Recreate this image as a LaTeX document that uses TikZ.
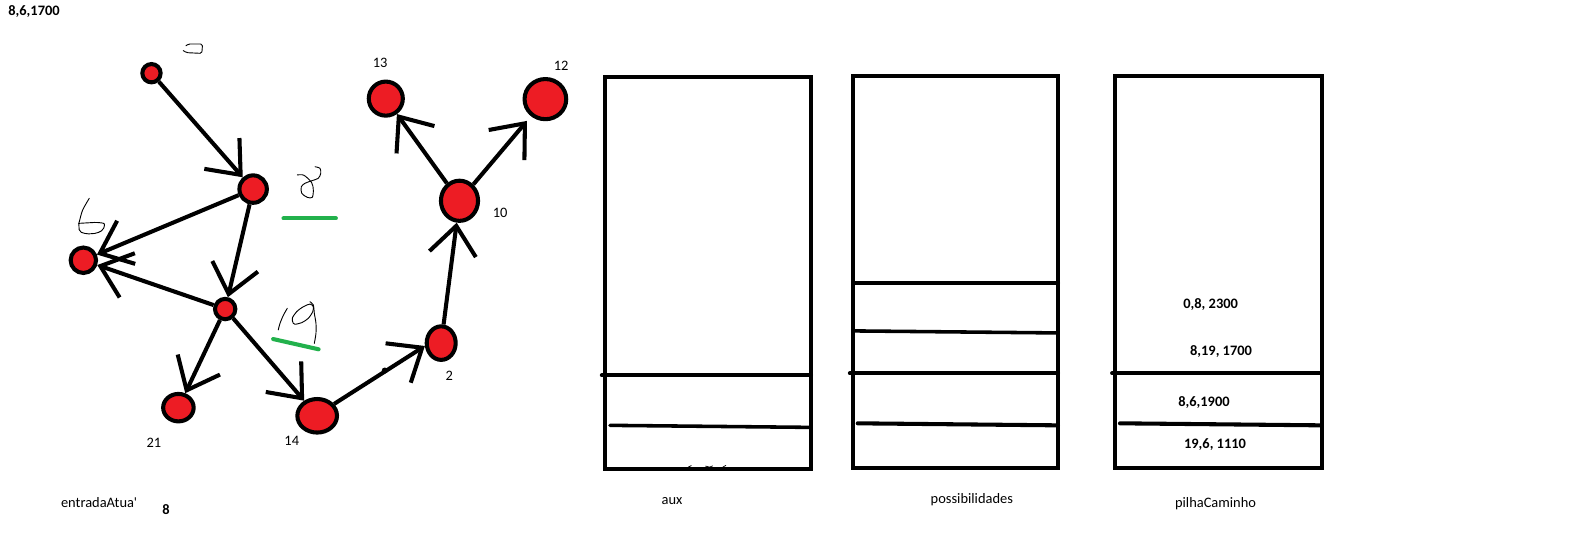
\documentclass[tikz,border=0pt]{standalone}
\usepackage{fontspec}
\setmainfont{Carlito}
\usetikzlibrary{arrows.meta,shapes.geometric}
\definecolor{pred}{HTML}{ED1C24}
\definecolor{pgreen}{HTML}{22B14C}
\newcommand\lblfont{\fontsize{14.2}{16}\selectfont}
\newcommand\lblbold{\fontsize{14.2}{16}\selectfont\bfseries}
\begin{document}
\begin{tikzpicture}[x=1pt,y=-1pt,
  vert/.style={ellipse, draw=black, fill=pred, line width=4pt, inner sep=0pt},
  arr/.style={line width=4pt, -{Straight Barb[length=28pt,width=46pt]}},
  lbl/.style={font=\lblfont, inner sep=0pt},
  blbl/.style={font=\lblbold, inner sep=0pt},
  stackbox/.style={line width=4pt},
  divider/.style={line width=4pt, line cap=round},
  hl/.style={draw=pgreen, line width=4pt, line cap=round},
  scrib/.style={line width=0.9pt, line cap=round, line join=round}]
\useasboundingbox (0,0) rectangle (1568,531);
\fill[white] (0,0) rectangle (1568,531);

% graph vertices
\node[vert, minimum width=18pt, minimum height=18pt] (A) at (149,72) {};
\node[vert, minimum width=27pt, minimum height=27pt] (B) at (249,186) {};
\node[vert, minimum width=25pt, minimum height=25pt] (C) at (82,256) {};
\node[vert, minimum width=20pt, minimum height=20pt] (D) at (221.5,304) {};
\node[vert, minimum width=30pt, minimum height=27pt] (E) at (175.5,401) {};
\node[vert, minimum width=39pt, minimum height=33pt] (F) at (312,409) {};
\node[vert, minimum width=28.5pt, minimum height=33pt] (G) at (434,337.5) {};
\node[vert, minimum width=36.5pt, minimum height=39.5pt] (H) at (452,197.5) {};
\node[vert, minimum width=33.5pt, minimum height=33.5pt] (I) at (379.5,97) {};
\node[vert, minimum width=41pt, minimum height=39.5pt] (J) at (536.5,97.5) {};

% edges
\draw[arr] (A) -- (B);
\draw[arr] (B) -- (C);
\draw[arr] (D) -- (C);
\draw[arr] (B) -- (D);
\draw[arr] (D) -- (E);
\draw[arr] (D) -- (F);
\draw[arr] (F.35) -- (G.190);
\draw[arr] (G) -- (H);
\draw[arr] (H) -- (I);
\draw[arr, shorten >=6pt] (H) -- (J);
\fill (378.5,364.5) circle (3pt);

% vertex labels
\node[lbl] (l13) at (374,62.3) {13};
\node[lbl] (l12) at (552,64.6) {12};
\node[lbl] (l10) at (492,208.9) {10};
\node[lbl] (l2) at (442,370) {2};
\node[lbl] (l14) at (287,433.5) {14};
\node[lbl] (l21) at (151.4,435.4) {21};
\node[blbl] (top) at (33.5,11.5) {8,6,1700};
\node[lbl] (entr) at (97.5,494.5) {entradaAtua\textquotesingle};
\node[blbl] (eight) at (163.4,500.8) {8};

% green marks
\draw[hl] (278.9,214.8) -- (330.4,214.8);
\draw[hl] (268.7,333.5) -- (313.4,343.6);

% handwritten scribbles
\draw[scrib, rounded corners=1.5pt] (180.3,49.8) -- (183.6,51.8) -- (198.4,52.5) -- (199,47.9) -- (199,43.3) -- (185.2,43.3) -- (183,45);
\draw[scrib] plot[smooth] coordinates {(292.4,172.1) (299,172.4) (306.6,179.7) (308.2,186.9) (307.2,194.1) (302.3,194.1) (296.8,190.1) (296.4,183.7) (300,180.3) (306.6,177.8) (313.1,175.4) (315.5,170.5) (314.8,165.6) (309.9,164)};
\draw[scrib] plot[smooth] coordinates {(87.8,195.1) (81.3,206.6) (78,218.1) (77.5,220)};
\draw[scrib, rounded corners=2pt] (77.5,219.7) -- (78,227.9) -- (85.3,230.2) -- (95.1,229.5) -- (101.6,226.2) -- (103.3,219.7) -- (95.1,218.7) -- (77.5,219.7);
\draw[scrib] plot[smooth] coordinates {(282.6,303.3) (278.7,310.2) (275.4,318.2) (273.7,324.6)};
\draw[scrib] plot[smooth cycle] coordinates {(288.5,318) (287.5,313.1) (291.8,306.6) (298.4,301.7) (304.9,299.1) (308.2,301.7) (307.6,306.6) (303.3,313.1) (296.8,317.4) (290.2,319)};
\draw[scrib] plot[smooth] coordinates {(304.9,296.8) (308.2,300) (309.2,308.2) (310.8,318) (310.8,327.9) (309.2,337.7)};

% stacks
\draw[stackbox] (595.4,76) rectangle (797.8,461.7);
\draw[divider] (592,369.2) -- (797.8,369.2);
\draw[divider, line width=3.5pt] (600,418.4) -- (797.8,420.4);
\draw[scrib, line width=0.7pt] (677,459.5) -- (680,458) (694,458.5) -- (698,459.5) -- (701,458.3) (711,459.5) -- (714,457.8);

\draw[stackbox] (839.4,74.4) rectangle (1040.7,460.7);
\draw[divider] (839.4,278.7) -- (1040.7,278.7);
\draw[divider, line width=3.5pt] (839.4,325.5) -- (1040.7,327.5);
\draw[divider] (836,367.3) -- (1040.7,367.3);
\draw[divider] (843.7,416.4) -- (1040.7,418.4);

\draw[stackbox] (1097.1,74.4) rectangle (1300,460.7);
\draw[divider] (1094,367.3) -- (1300,367.3);
\draw[divider] (1101.7,416.4) -- (1300,418.4);

% stack contents
\node[blbl] (p1) at (1190.9,300) {0,8, 2300};
\node[blbl] (p2) at (1201.1,346) {8,19, 1700};
\node[blbl] (p3) at (1184.3,396.1) {8,6,1900};
\node[blbl] (p4) at (1195.2,437.7) {19,6, 1110};

% stack captions
\node[lbl] (caux) at (661,492.5) {aux};
\node[lbl] (cposs) at (956,491.8) {possibilidades};
\node[lbl] (cpilha) at (1195.7,495.8) {pilhaCaminho};
\end{tikzpicture}
\end{document}
